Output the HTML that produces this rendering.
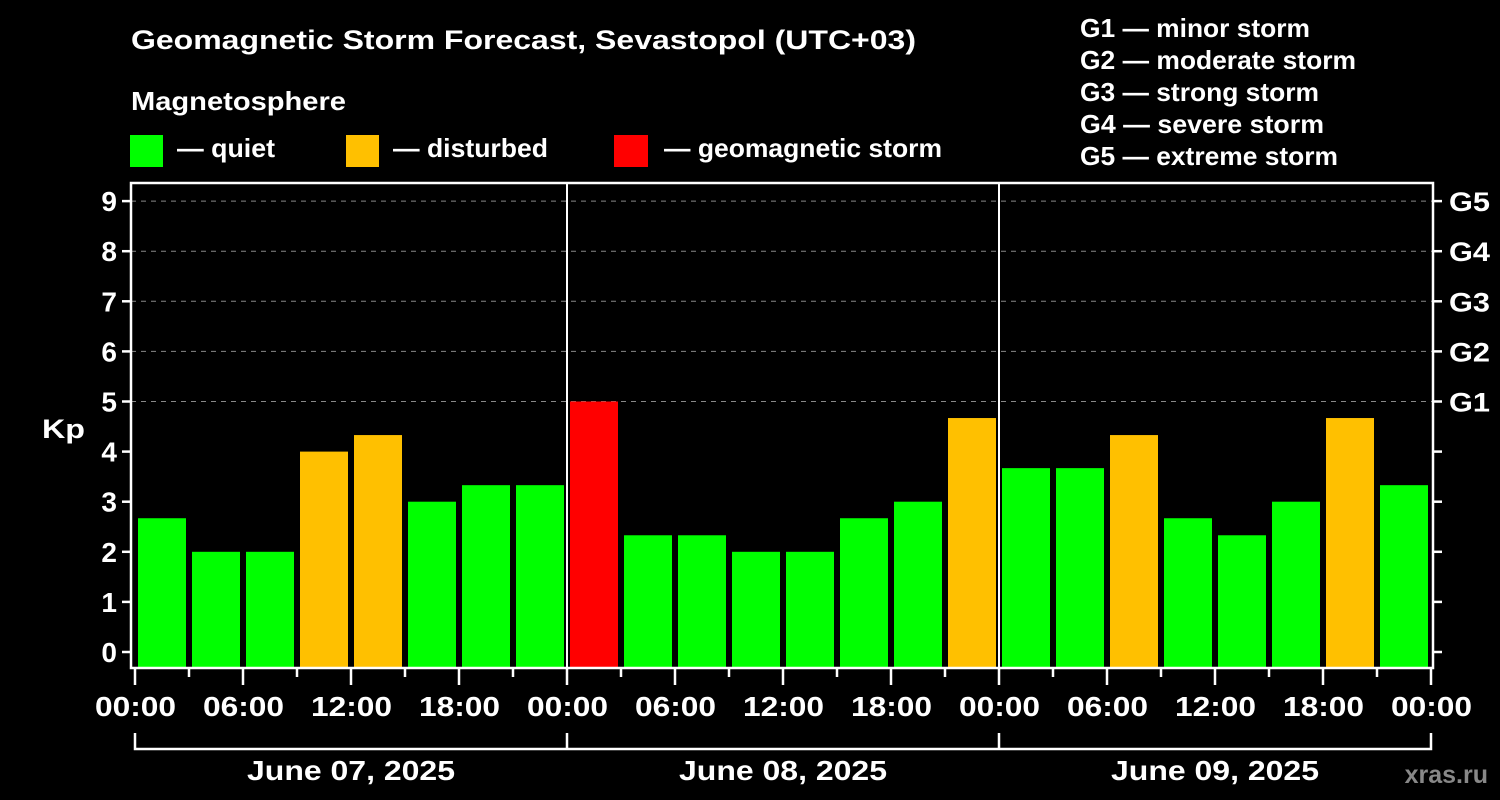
<!DOCTYPE html>
<html><head><meta charset="utf-8"><style>
body{margin:0;background:#000;}
svg{display:block;font-family:"Liberation Sans",sans-serif;font-weight:bold;}
</style></head><body>
<svg id="c" width="1500" height="800" viewBox="0 0 1500 800">
<rect x="0" y="0" width="1500" height="800" fill="#000"/>
<text x="131" y="49" fill="#fff" font-size="27" textLength="785" lengthAdjust="spacingAndGlyphs">Geomagnetic Storm Forecast, Sevastopol (UTC+03)</text>
<text x="131" y="110" fill="#fff" font-size="26" textLength="215" lengthAdjust="spacingAndGlyphs">Magnetosphere</text>
<g><rect x="130" y="135" width="33" height="32" fill="#00ff00"/><text x="177" y="157" fill="#fff" font-size="26" textLength="98" lengthAdjust="spacingAndGlyphs">— quiet</text></g>
<g><rect x="346" y="135" width="33" height="32" fill="#ffc000"/><text x="393" y="157" fill="#fff" font-size="26" textLength="155" lengthAdjust="spacingAndGlyphs">— disturbed</text></g>
<g><rect x="614" y="135" width="34" height="32" fill="#ff0000"/><text x="664" y="157" fill="#fff" font-size="26" textLength="278" lengthAdjust="spacingAndGlyphs">— geomagnetic storm</text></g>
<g fill="#fff" font-size="26">
<text x="1080" y="37" textLength="230" lengthAdjust="spacingAndGlyphs">G1 — minor storm</text>
<text x="1080" y="69" textLength="276" lengthAdjust="spacingAndGlyphs">G2 — moderate storm</text>
<text x="1080" y="101" textLength="239" lengthAdjust="spacingAndGlyphs">G3 — strong storm</text>
<text x="1080" y="133" textLength="244" lengthAdjust="spacingAndGlyphs">G4 — severe storm</text>
<text x="1080" y="165" textLength="258" lengthAdjust="spacingAndGlyphs">G5 — extreme storm</text>
</g>
<text x="42" y="438" fill="#fff" font-size="27" textLength="43" lengthAdjust="spacingAndGlyphs">Kp</text>
<text x="1488" y="783" fill="#888" font-size="25" text-anchor="end">xras.ru</text>
<g id="grid"></g><g id="bars"></g><g id="axes"></g>
</svg>
<script>
const kpValues=[2.67,2,2,4,4.33,3,3.33,3.33, 5,2.33,2.33,2,2,2.67,3,4.67, 3.67,3.67,4.33,2.67,2.33,3,4.67,3.33];
const yTicks=[0,1,2,3,4,5,6,7,8,9];
const gLabels=["G1","G2","G3","G4","G5"];
const dayLabels=["June 07, 2025","June 08, 2025","June 09, 2025"];
const timeLabels=["00:00","06:00","12:00","18:00"];
const NS="http://www.w3.org/2000/svg";
const x0=135, slot=54, y0=652, unit=50.1, plotTop=183, plotBottom=668;
const X=i=>x0+i*slot;
const Y=v=>y0-v*unit;
function mk(t,a,p){const e=document.createElementNS(NS,t);for(const k in a)e.setAttribute(k,a[k]);p.appendChild(e);return e;}
const grid=document.getElementById('grid'),bars=document.getElementById('bars'),axes=document.getElementById('axes');
for(let v=5;v<=9;v++){const l=mk('line',{x1:131,x2:1433,y1:Y(v),y2:Y(v),stroke:'#888','stroke-dasharray':'5,5'},grid);

}
kpValues.forEach((v,i)=>{const col=v>=5?'#ff0000':(v>=4?'#ffc000':'#00ff00');
const r=mk('rect',{x:X(i)+3,y:Y(v),width:slot-6,height:plotBottom-Y(v),fill:col},bars);

});
const ax=mk('path',{d:`M131 ${plotTop}H1433V${plotBottom}H131Z`,fill:'none',stroke:'#fff','stroke-width':2.5},axes);


for(let d=1;d<3;d++){mk('line',{x1:X(d*8),x2:X(d*8),y1:plotTop,y2:plotBottom,stroke:'#fff','stroke-width':2},axes);}
yTicks.forEach(v=>{mk('line',{x1:122,x2:131,y1:Y(v),y2:Y(v),stroke:'#fff','stroke-width':2.5},axes);
mk('line',{x1:1433,x2:1442,y1:Y(v),y2:Y(v),stroke:'#fff','stroke-width':2.5},axes);
const t=mk('text',{x:117,y:Y(v)+10,fill:'#fff','font-size':28,'text-anchor':'end'},axes);t.textContent=v;

});
gLabels.forEach((g,k)=>{const t=mk('text',{x:1449,y:Y(5+k)+10,fill:'#fff','font-size':27,textLength:41,lengthAdjust:'spacingAndGlyphs'},axes);t.textContent=g;

});
for(let i=0;i<=24;i++){const major=i%2===0;
mk('line',{x1:X(i),x2:X(i),y1:plotBottom,y2:major?685:677,stroke:'#fff','stroke-width':2.5},axes);
if(major){const t=mk('text',{x:X(i)-40,y:716,fill:'#fff','font-size':28,textLength:81,lengthAdjust:'spacingAndGlyphs'},axes);t.textContent=timeLabels[(i/2)%4];

}}
mk('path',{d:`M${X(0)} 733V749H${X(24)}V733M${X(8)} 733V749M${X(16)} 733V749`,fill:'none',stroke:'#fff','stroke-width':2.5},axes);
dayLabels.forEach((d,k)=>{const t=mk('text',{x:X(k*8+4)-104,y:780,fill:'#fff','font-size':28,textLength:208,lengthAdjust:'spacingAndGlyphs'},axes);t.textContent=d;

});
</script>
</body></html>
